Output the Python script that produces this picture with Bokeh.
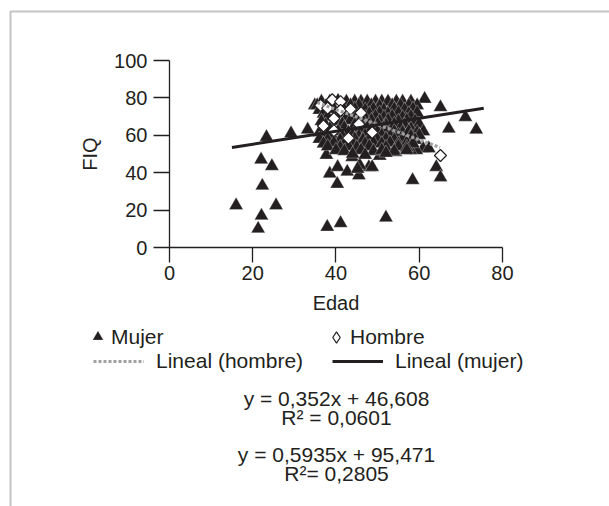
from bokeh.plotting import figure
from bokeh.models import FixedTicker, Legend, LegendItem, Label, BoxAnnotation
from bokeh.embed import file_html
from bokeh.resources import INLINE

# ---------------- data ----------------
mujer_edad = [
    16, 21.3, 22.1, 22.3, 22, 24.6, 25.6, 23.3, 29.2, 33.2, 34.9, 37.9, 41.1, 37.7, 38.5, 40.3,
    40.4, 42.7, 43.9, 45.5, 47.9, 45.7, 52, 58.4, 64.1, 65.1, 61.3, 65.1, 71.1, 67.1, 73.7,
    60.9, 62.3, 59.3, 56.9, 53.9, 50.5, 41.5, 45.2, 54.3, 57.9, 48.7,
    36.5, 38.5, 40.5, 42.5, 44.5, 46, 47.5, 49.5, 51, 52.5, 54.5, 56, 58,
    35.5, 37.5, 43.5, 45.5, 48.5, 50.5, 53.5, 55.5, 57.5, 59.5,
    36, 39.5, 42, 44.5, 47, 49, 51.5, 54, 56.5, 58.5,
    37, 40.5, 44, 48, 50.5, 52.5, 55, 57.5, 59.5,
    38, 42.5, 45, 47, 49.5, 51.5, 53.5, 56, 58,
    36.5, 40, 43.5, 46.5, 48.5, 50.5, 52.5, 55, 57, 59,
    37.5, 41.5, 44.5, 46, 48, 50, 52, 54, 56.5, 60,
    38.5, 42, 45, 47.5, 49.5, 51.5, 53.5, 55.5, 58,
    36, 40.5, 43, 46, 48, 50, 52, 54, 56, 57.5, 59.5, 61,
    37, 39, 41.5, 44, 45.5, 47, 49, 51, 53, 55, 58, 60,
    36, 38, 41, 44.5, 46.5, 48, 50, 52, 54, 56, 59,
    37, 39.5, 42, 44, 47, 49, 51, 53, 55, 57, 58.5,
    38, 41, 43, 45, 48, 52, 55, 57,
    40, 42, 46, 49, 51, 54, 57,
    44, 47, 52,
]
mujer_fiq = [
    22.5, 10, 17, 33, 47, 43.5, 22.5, 59, 61, 63, 76, 11, 13, 49.5, 39.5, 34,
    43, 40.5, 48.3, 38.5, 43, 44, 16, 36, 43, 37.5, 79.5, 75, 69.7, 63.5, 63,
    53, 53, 52, 53, 52, 49, 52, 42, 51, 52, 43,
    78, 78, 78.5, 78, 78, 78, 78, 78, 78, 78, 78, 78, 78,
    76, 75.5, 76, 76, 76, 75.5, 76, 76, 76, 76,
    73.5, 74, 73.5, 74, 73.5, 74, 73.5, 74, 73.5, 74,
    71.5, 71.5, 72, 71.5, 72, 71.5, 72, 71.5, 72,
    70, 69.5, 70, 69.5, 70, 69.5, 70, 69.5, 70,
    67.5, 67.5, 68, 67.5, 68, 67.5, 68, 67.5, 68, 67.5,
    65.5, 66, 65.5, 66, 65.5, 66, 65.5, 66, 65.5, 66,
    63.5, 64, 63.5, 64, 63.5, 64, 63.5, 64, 63.5,
    61.5, 62, 61.5, 62, 61.5, 62, 61.5, 62, 61.5, 62, 61.5, 62,
    59.5, 60, 59.5, 60, 59.5, 60, 59.5, 60, 59.5, 60, 59.5, 60,
    58, 57.5, 57.5, 58, 57.5, 58, 57.5, 58, 57.5, 58, 57.5,
    55.5, 56, 55.5, 56, 55.5, 56, 55.5, 56, 55.5, 56, 55.5,
    54, 53.5, 54, 53.5, 54, 53.5, 54, 53.5,
    52, 51.5, 52, 51.5, 52, 51.5, 52,
    50, 49.5, 50.5,
]
hombre_edad = [36.3, 38, 39.1, 41.1, 41.1, 43.5, 46, 39.5, 37, 39.5, 43, 48.7, 65.1, 45.5]
hombre_fiq = [76, 74.5, 79, 78, 73.3, 74, 72, 69, 65, 62.5, 58.5, 61.5, 49.2, 66]

lineal_mujer_edad = [15, 75.5]
lineal_mujer_fiq = [53.5, 74.5]
lineal_hombre_edad = [35.5, 65]
lineal_hombre_fiq = [77.5, 53.5]

x_ticks = [0, 20, 40, 60, 80]
y_ticks = [0, 20, 40, 60, 80, 100]

ecuaciones = ["y = 0,352x + 46,608", "R\u00b2 = 0,0601", "y = 0,5935x + 95,471", "R\u00b2= 0,2805"]

# ---------------- style ----------------
INK = "#231f20"
FONT = "Liberation Sans"
FS = "20px"
FS_TXT = "21px"

W, H = 609, 506
# data window chosen so that the whole canvas is the plotting frame;
# the axes are drawn at x = 0 and y = 0 with fixed_location
p = figure(width=W, height=H, x_range=(-40.6, 105.71), y_range=(-138.5, 132.09),
           output_backend="svg", toolbar_location=None, min_border=0,
           min_border_left=0, min_border_right=0, min_border_top=0, min_border_bottom=0)
p.grid.visible = False
p.outline_line_color = None
p.background_fill_color = "white"
p.border_fill_color = "white"

r_m = p.scatter(mujer_edad, mujer_fiq, marker="triangle", size=14,
                fill_color=INK, line_color="white", line_width=0.3)
r_h = p.scatter(hombre_edad, hombre_fiq, marker="square", angle=0.785398, size=8.5,
                fill_color="white", line_color=INK, line_width=1.2)
# hidden twin of the "Hombre" series, used only to draw its legend key as a diamond
r_h_key = p.scatter(hombre_edad, hombre_fiq, marker="diamond", size=11, visible=False,
                    fill_color="white", line_color=INK, line_width=1.2)
r_lh = p.line(lineal_hombre_edad, lineal_hombre_fiq, line_color="#a0a0a0", line_width=3.2,
              line_dash="3 2")
r_lm = p.line(lineal_mujer_edad, lineal_mujer_fiq, line_color=INK, line_width=3)

for ax in (p.xaxis[0], p.yaxis[0]):
    ax.fixed_location = 0
    ax.axis_line_color = INK
    ax.axis_line_width = 1.3
    ax.major_tick_line_color = INK
    ax.major_tick_line_width = 1.3
    ax.major_tick_in = 0
    ax.minor_tick_in = 0
    ax.minor_tick_out = 0
    ax.major_label_text_font = FONT
    ax.major_label_text_font_size = FS
    ax.major_label_text_color = INK
    ax.axis_label_text_font = FONT
    ax.axis_label_text_font_size = FS
    ax.axis_label_text_font_style = "normal"
    ax.axis_label_text_color = INK

p.xaxis[0].bounds = (x_ticks[0], x_ticks[-1])
p.yaxis[0].bounds = (y_ticks[0], y_ticks[-1])
p.xaxis[0].ticker = FixedTicker(ticks=x_ticks)
p.yaxis[0].ticker = FixedTicker(ticks=y_ticks)
p.xaxis[0].major_tick_out = 15
p.yaxis[0].major_tick_out = 16
p.xaxis[0].major_label_standoff = 3
p.yaxis[0].major_label_standoff = 6
p.xaxis[0].axis_label = "Edad"
p.yaxis[0].axis_label = "FIQ"
p.xaxis[0].axis_label_standoff = 9
p.yaxis[0].axis_label_standoff = 10

common = dict(orientation="horizontal", padding=0, margin=0,
              border_line_color=None, background_fill_alpha=0,
              inactive_fill_alpha=0,
              label_text_font=FONT, label_text_font_size=FS_TXT, label_text_color=INK)

leg_m = Legend(items=[LegendItem(label="Mujer", renderers=[r_m])],
               location=(84, 156), glyph_width=27, glyph_height=27, label_height=27,
               label_standoff=0, **common)
leg_h = Legend(items=[LegendItem(label="Hombre", renderers=[r_h_key])],
               location=(322, 155), glyph_width=28, glyph_height=28, label_height=28,
               label_standoff=0, **common)
leg_l = Legend(items=[LegendItem(label="Lineal (hombre)", renderers=[r_lh]),
                      LegendItem(label="Lineal (mujer)", renderers=[r_lm])],
               location=(93, 133), glyph_width=51, glyph_height=20, label_height=20,
               label_width=156, label_standoff=12, spacing=20, **common)
p.add_layout(leg_m)
p.add_layout(leg_h)
p.add_layout(leg_l)

eq_y = [108, 89, 52, 33]
for txt, yy in zip(ecuaciones, eq_y):
    p.add_layout(Label(x=336, y=yy, x_units="screen", y_units="screen", text=txt,
                       text_align="center", text_baseline="middle",
                       text_font=FONT, text_font_size=FS_TXT, text_color=INK))

frame_box = BoxAnnotation(left=10, right=1000, top=11, bottom=1000,
                          left_units="canvas", right_units="canvas",
                          top_units="canvas", bottom_units="canvas",
                          fill_alpha=0, line_color="#3a3a3a", line_width=2)
p.add_layout(frame_box)

open("out.html", "w").write(file_html(p, INLINE))
